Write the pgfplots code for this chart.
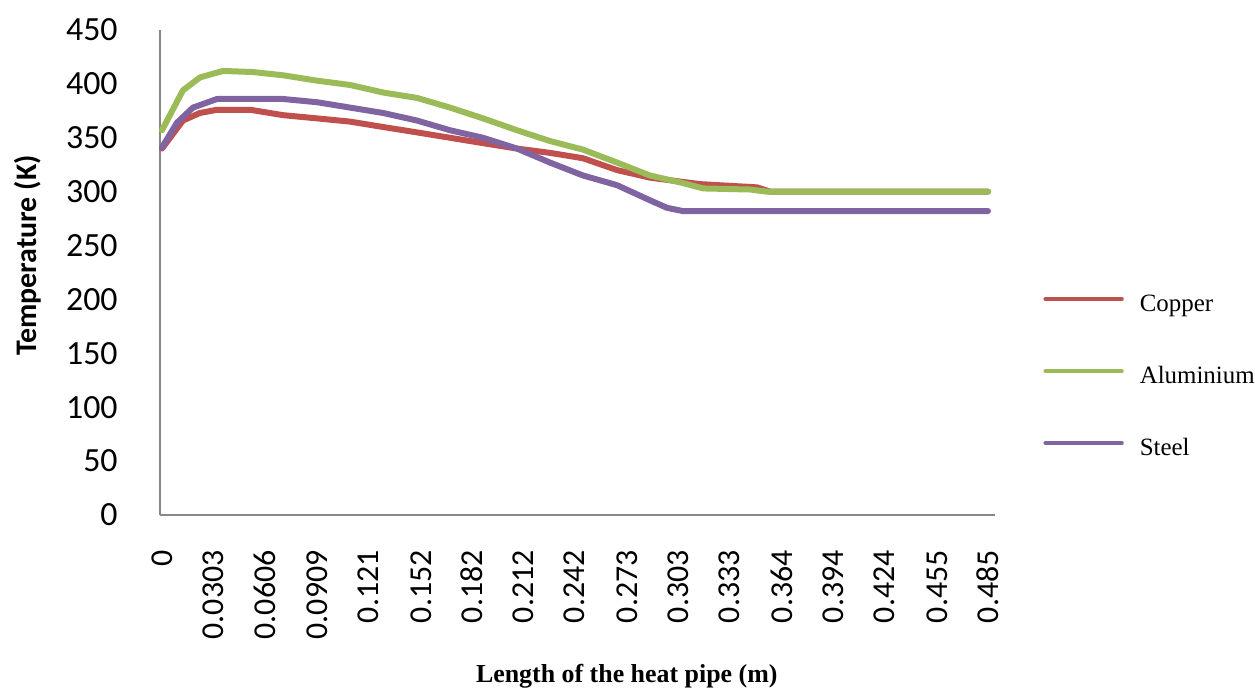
\documentclass[border=0pt]{standalone}
\usepackage{pgfplots}
\pgfplotsset{compat=1.18}
\usepackage{fontspec}
\setmainfont{Liberation Serif}
\newfontfamily\calibri{Carlito}
\definecolor{cuRed}{HTML}{C0504D}
\definecolor{alGreen}{HTML}{9BBB59}
\definecolor{stPurple}{HTML}{8064A2}
\definecolor{axisGrey}{HTML}{878787}

\begin{document}
\begin{tikzpicture}
\useasboundingbox (-80bp,-88.5bp) rectangle (547.5bp,257.5bp);
\begin{axis}[
  scale only axis,
  width=417.5bp, height=242.5bp,
  xmin=-0.00117, xmax=0.4891,
  ymin=0, ymax=450,
  axis x line=bottom, axis y line=left,
  axis line style={-, axisGrey, line width=1bp},
  major tick length=0pt,
  /pgf/number format/assume math mode=true,
  ytick={0,50,...,450},
  xtick={0,0.0303,0.0606,0.0909,0.121,0.152,0.182,0.212,0.242,0.273,0.303,0.333,0.364,0.394,0.424,0.455,0.485},
  xticklabels={0,0.0303,0.0606,0.0909,0.121,0.152,0.182,0.212,0.242,0.273,0.303,0.333,0.364,0.394,0.424,0.455,0.485},
  yticklabel style={font=\calibri\fontsize{17}{20}\selectfont, inner sep=0pt, anchor=east},
  yticklabel shift=21bp,
  xticklabel style={font=\calibri\fontsize{16}{19}\selectfont, inner sep=0pt, rotate=90, anchor=east},
  xticklabel shift=17.5bp,
  ylabel={Temperature (K)},
  ylabel style={font=\calibri\bfseries\fontsize{15}{18}\selectfont, at={(axis description cs:-0.158,0.535)}, anchor=center},
  xlabel={Length of the heat pipe (m)},
  xlabel style={font=\bfseries\fontsize{13}{16}\selectfont, at={(axis description cs:0.559,-0.332)}, anchor=center},
  every axis plot/.append style={line width=3bp, line join=round, line cap=round},
  legend style={at={(axis description cs:1.0575,0.2825)}, anchor=west, draw=none, fill=none,
    inner sep=0pt, row sep=24bp, column sep=8bp,
    font=\fontsize{12.5}{15}\selectfont,
    nodes={inner sep=0pt, text height=9bp, text depth=3bp}},
  legend cell align=left,
  legend image code/.code={\draw[#1, line width=2.2bp] (0bp,3.5bp) -- (38bp,3.5bp);},
  clip=false,
]
% Copper
\addplot[cuRed] coordinates {
(0,340) (0.0123,366) (0.0223,373) (0.0323,376) (0.0517,376) (0.0710,371)
(0.0910,368) (0.1104,365) (0.1298,360) (0.1497,355) (0.1691,350) (0.1885,345)
(0.2084,340) (0.2278,336) (0.2472,331) (0.2672,320) (0.2865,313) (0.3159,307)
(0.3494,304) (0.3570,300) (0.485,300)
};
\addlegendentry{Copper}
% Aluminium
\addplot[alGreen] coordinates {
(0,357) (0.0123,394) (0.0223,406) (0.0358,412) (0.0534,411) (0.0710,408)
(0.0910,403) (0.1104,399) (0.1298,392) (0.1497,387) (0.1691,378) (0.1885,368)
(0.2084,357) (0.2278,347) (0.2472,339) (0.2672,327) (0.2865,315) (0.3059,308)
(0.3177,303) (0.3453,302) (0.3552,300) (0.485,300)
};
\addlegendentry{Aluminium}
% Steel
\addplot[stPurple] coordinates {
(0,341) (0.0088,364) (0.0182,378) (0.0323,386) (0.0710,386) (0.0910,383)
(0.1104,378) (0.1298,373) (0.1497,366) (0.1691,357) (0.1885,350) (0.2084,340)
(0.2278,327) (0.2472,315) (0.2672,306) (0.2865,292) (0.2965,285) (0.3059,282)
(0.485,282)
};
\addlegendentry{Steel}
\end{axis}
\end{tikzpicture}
\end{document}
